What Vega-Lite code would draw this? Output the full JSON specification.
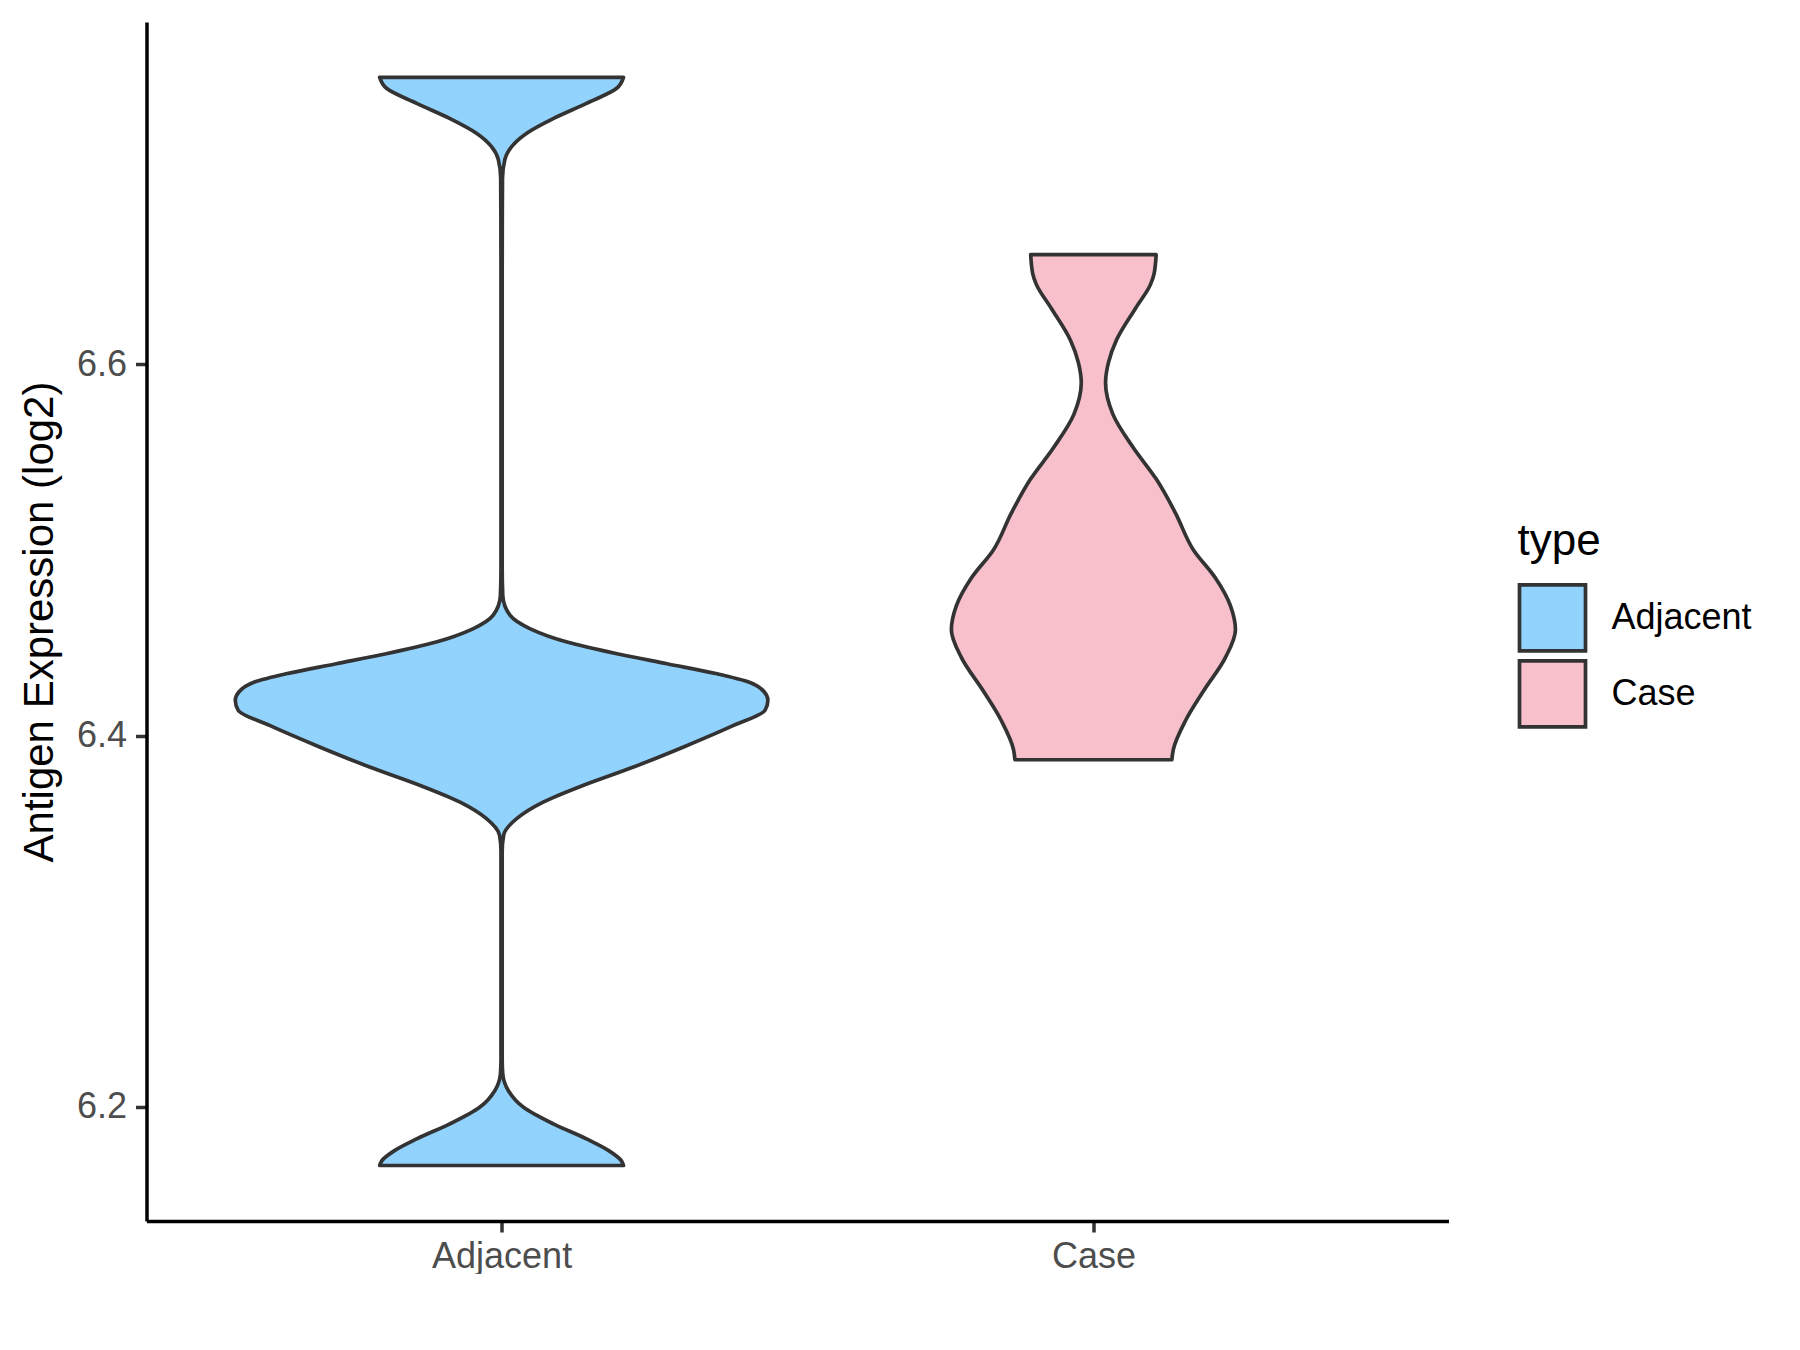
{
  "$schema": "https://vega.github.io/schema/vega-lite/v6.json",
  "background": "white",
  "autosize": {"type": "pad"},
  "padding": {"left": 17.5, "top": 22, "right": 0, "bottom": 0},
  "config": {
    "view": {"stroke": null},
    "font": "Liberation Sans",
    "axis": {"grid": false}
  },
  "datasets": {
    "violin": [
      {"type": "Adjacent", "expression": 6.1685, "density": 0.412},
      {"type": "Adjacent", "expression": 6.171, "density": 0.405},
      {"type": "Adjacent", "expression": 6.1765, "density": 0.362},
      {"type": "Adjacent", "expression": 6.1828, "density": 0.287},
      {"type": "Adjacent", "expression": 6.1909, "density": 0.175},
      {"type": "Adjacent", "expression": 6.2, "density": 0.073},
      {"type": "Adjacent", "expression": 6.2088, "density": 0.023},
      {"type": "Adjacent", "expression": 6.2177, "density": 0.004},
      {"type": "Adjacent", "expression": 6.225, "density": 0.002},
      {"type": "Adjacent", "expression": 6.25, "density": 0.002},
      {"type": "Adjacent", "expression": 6.3, "density": 0.002},
      {"type": "Adjacent", "expression": 6.3376, "density": 0.002},
      {"type": "Adjacent", "expression": 6.3464, "density": 0.007},
      {"type": "Adjacent", "expression": 6.3554, "density": 0.052},
      {"type": "Adjacent", "expression": 6.3643, "density": 0.142},
      {"type": "Adjacent", "expression": 6.3733, "density": 0.277},
      {"type": "Adjacent", "expression": 6.3831, "density": 0.446},
      {"type": "Adjacent", "expression": 6.3939, "density": 0.615},
      {"type": "Adjacent", "expression": 6.4055, "density": 0.784},
      {"type": "Adjacent", "expression": 6.4136, "density": 0.89},
      {"type": "Adjacent", "expression": 6.419, "density": 0.9},
      {"type": "Adjacent", "expression": 6.4235, "density": 0.888},
      {"type": "Adjacent", "expression": 6.4289, "density": 0.835},
      {"type": "Adjacent", "expression": 6.4333, "density": 0.728},
      {"type": "Adjacent", "expression": 6.4387, "density": 0.559},
      {"type": "Adjacent", "expression": 6.4441, "density": 0.39},
      {"type": "Adjacent", "expression": 6.4504, "density": 0.221},
      {"type": "Adjacent", "expression": 6.4575, "density": 0.097},
      {"type": "Adjacent", "expression": 6.4647, "density": 0.029},
      {"type": "Adjacent", "expression": 6.4754, "density": 0.004},
      {"type": "Adjacent", "expression": 6.49, "density": 0.002},
      {"type": "Adjacent", "expression": 6.55, "density": 0.002},
      {"type": "Adjacent", "expression": 6.65, "density": 0.002},
      {"type": "Adjacent", "expression": 6.7, "density": 0.003},
      {"type": "Adjacent", "expression": 6.7102, "density": 0.011},
      {"type": "Adjacent", "expression": 6.7172, "density": 0.034},
      {"type": "Adjacent", "expression": 6.7244, "density": 0.085},
      {"type": "Adjacent", "expression": 6.7324, "density": 0.176},
      {"type": "Adjacent", "expression": 6.7405, "density": 0.287},
      {"type": "Adjacent", "expression": 6.7486, "density": 0.389},
      {"type": "Adjacent", "expression": 6.7545, "density": 0.412},
      {"type": "Case", "expression": 6.387, "density": 0.265},
      {"type": "Case", "expression": 6.3925, "density": 0.27},
      {"type": "Case", "expression": 6.408, "density": 0.311},
      {"type": "Case", "expression": 6.424, "density": 0.372},
      {"type": "Case", "expression": 6.442, "density": 0.446},
      {"type": "Case", "expression": 6.457, "density": 0.48},
      {"type": "Case", "expression": 6.47, "density": 0.463},
      {"type": "Case", "expression": 6.485, "density": 0.412},
      {"type": "Case", "expression": 6.5, "density": 0.338},
      {"type": "Case", "expression": 6.52, "density": 0.277},
      {"type": "Case", "expression": 6.538, "density": 0.213},
      {"type": "Case", "expression": 6.555, "density": 0.135},
      {"type": "Case", "expression": 6.573, "density": 0.066},
      {"type": "Case", "expression": 6.59, "density": 0.041},
      {"type": "Case", "expression": 6.601, "density": 0.051},
      {"type": "Case", "expression": 6.613, "density": 0.078},
      {"type": "Case", "expression": 6.63, "density": 0.142},
      {"type": "Case", "expression": 6.643, "density": 0.193},
      {"type": "Case", "expression": 6.6487, "density": 0.205},
      {"type": "Case", "expression": 6.659, "density": 0.212}
    ]
  },
  "spacing": 0,
  "bounds": "flush",
  "resolve": {"scale": {"x": "independent", "y": "independent", "fill": "shared"}},
  "hconcat": [
    {
      "width": 651,
      "height": 1199,
      "data": {"name": "violin"},
      "transform": [{"filter": "datum.type === 'Adjacent'"}],
      "mark": {"type": "area", "orient": "horizontal", "interpolate": "monotone", "stroke": "#333333", "strokeWidth": 3.7, "fillOpacity": 1, "strokeJoin": "round"},
      "encoding": {
        "y": {
          "field": "expression", "type": "quantitative",
          "scale": {"domain": [6.1386, 6.7843], "nice": false, "zero": false},
          "axis": {"values": [6.2, 6.4, 6.6], "format": ".1f", "title": "Antigen Expression (log2)", "titleFontSize": 42, "titleFontWeight": "normal", "titleColor": "black", "titlePadding": 15, "labelFontSize": 36, "labelColor": "#4D4D4D", "labelPadding": 9, "tickSize": 11, "tickWidth": 3.5, "tickColor": "#333333", "domainColor": "black", "domainWidth": 3.5, "grid": false}
        },
        "x": {
          "field": "density", "type": "quantitative", "stack": "center", "impute": null,
          "scale": {"domain": [-0.15, 0.95], "nice": false, "zero": false},
          "axis": {"values": [0.45], "labelExpr": "'Adjacent'", "title": null, "labelFontSize": 36, "labelColor": "#4D4D4D", "labelPadding": 7, "tickSize": 11, "tickWidth": 3.5, "tickColor": "#333333", "domainColor": "black", "domainWidth": 3.5, "grid": false, "labelFlush": false, "labelOverlap": false}
        },
        "fill": {
          "field": "type", "type": "nominal",
          "scale": {"domain": ["Adjacent", "Case"], "range": ["#92D3FE", "#F7C0CB"]},
          "legend": {"title": "type", "orient": "none", "legendX": 1371, "legendY": 498.4, "padding": 0, "symbolType": "square", "symbolSize": 4356, "symbolStrokeColor": "#333333", "symbolStrokeWidth": 3.7, "symbolOpacity": 1, "titleFontSize": 44, "titleFontWeight": "normal", "titleColor": "black", "titlePadding": 18.5, "labelFontSize": 36, "labelColor": "black", "labelOffset": 24, "rowPadding": -15.8}
        }
      }
    },
    {
      "width": 651,
      "height": 1199,
      "data": {"name": "violin"},
      "transform": [{"filter": "datum.type === 'Case'"}],
      "mark": {"type": "area", "orient": "horizontal", "interpolate": "monotone", "stroke": "#333333", "strokeWidth": 3.7, "fillOpacity": 1, "strokeJoin": "round"},
      "encoding": {
        "y": {
          "field": "expression", "type": "quantitative",
          "scale": {"domain": [6.1386, 6.7843], "nice": false, "zero": false},
          "axis": null
        },
        "x": {
          "field": "density", "type": "quantitative", "stack": "center", "impute": null,
          "scale": {"domain": [-0.26, 0.84], "nice": false, "zero": false},
          "axis": {"values": [0.24], "labelExpr": "'Case'", "title": null, "labelFontSize": 36, "labelColor": "#4D4D4D", "labelPadding": 7, "tickSize": 11, "tickWidth": 3.5, "tickColor": "#333333", "domainColor": "black", "domainWidth": 3.5, "grid": false, "labelFlush": false, "labelOverlap": false}
        },
        "fill": {
          "field": "type", "type": "nominal",
          "scale": {"domain": ["Adjacent", "Case"], "range": ["#92D3FE", "#F7C0CB"]},
          "legend": {"title": "type", "orient": "none", "legendX": 1371, "legendY": 498.4, "padding": 0, "symbolType": "square", "symbolSize": 4356, "symbolStrokeColor": "#333333", "symbolStrokeWidth": 3.7, "symbolOpacity": 1, "titleFontSize": 44, "titleFontWeight": "normal", "titleColor": "black", "titlePadding": 18.5, "labelFontSize": 36, "labelColor": "black", "labelOffset": 24, "rowPadding": -15.8}
        }
      }
    }
  ]
}
